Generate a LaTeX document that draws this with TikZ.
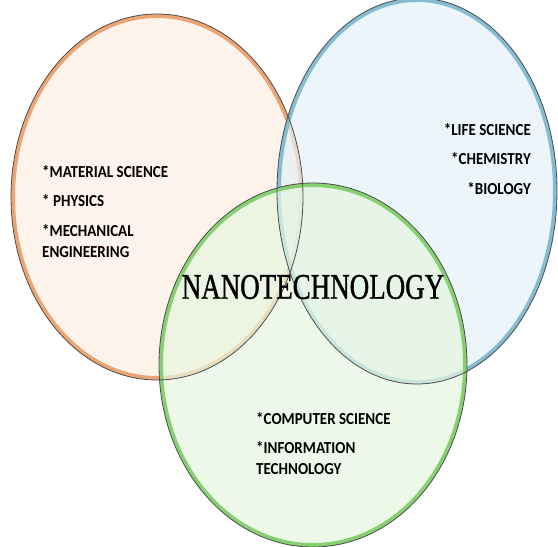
\documentclass[tikz,border=0pt]{standalone}
\usepackage{fontspec}
\setmainfont{Liberation Serif}
\newfontfamily\labelfont{Carlito}
\newfontfamily\titlefont[FakeBold=1.2]{Liberation Serif}
\usetikzlibrary{shapes.geometric}

\definecolor{orangefill}{HTML}{FDEEE2}
\definecolor{orangeline}{HTML}{EBA574}
\definecolor{bluefill}{HTML}{E4F1F6}
\definecolor{blueline}{HTML}{86BCD1}
\definecolor{greenfill}{HTML}{E6F5DF}
\definecolor{greenline}{HTML}{86D072}

\begin{document}
\begin{tikzpicture}[x=1pt,y=-1pt,field/.style={shape=ellipse,inner sep=0pt,fill opacity=0.7,line width=4pt},rim/.style={shape=ellipse,inner sep=0pt,draw=black!70,line width=0.8pt},topic/.style={font=\labelfont\bfseries\fontsize{15}{18.5}\selectfont,inner sep=0pt,align=left,yscale=1.12},every node/.style={text opacity=1}]
\useasboundingbox (0,0) rectangle (558,547);
% the three fields
\node[field,fill=orangefill,draw=orangeline,minimum width=288pt,minimum height=362pt](material) at (157,197) {};
\node[field,fill=bluefill,draw=blueline,minimum width=276pt,minimum height=382pt](life) at (417,191) {};
\node[field,fill=greenfill,draw=greenline,minimum width=304pt,minimum height=360pt](computer) at (313,365) {};
\node[rim,minimum width=292pt,minimum height=366pt] at (material.center) {};
\node[rim,minimum width=280pt,minimum height=386pt] at (life.center) {};
\node[rim,minimum width=308pt,minimum height=364pt] at (computer.center) {};
% labels
\node[topic,anchor=north west](phys) at (42,165) {*MATERIAL SCIENCE\\[8pt]* PHYSICS\\[8pt]*MECHANICAL\\ENGINEERING};
\node[topic,anchor=north east,align=right](bio) at (531,123) {*LIFE SCIENCE\\[8pt]*CHEMISTRY\\[8pt]*BIOLOGY};
\node[topic,anchor=north west](info) at (256,412) {*COMPUTER SCIENCE\\[8pt]*INFORMATION\\TECHNOLOGY};
\node[font=\titlefont\fontsize{36}{36}\selectfont,inner sep=0pt,xscale=0.75](nano) at (313,287) {NANOTECHNOLOGY};
\end{tikzpicture}
\end{document}
